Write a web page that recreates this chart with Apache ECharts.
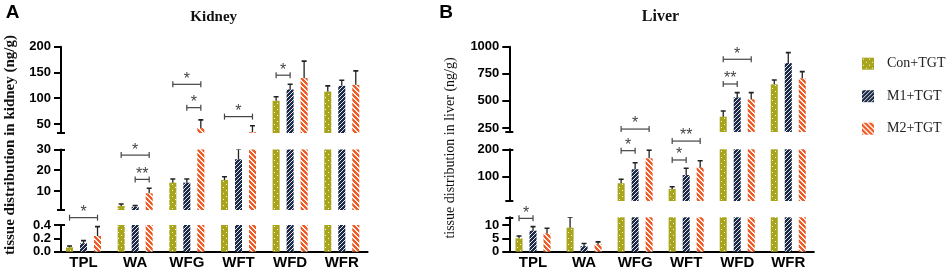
<!DOCTYPE html>
<html>
<head>
<meta charset="utf-8">
<script src="https://cdn.jsdelivr.net/npm/echarts@6/dist/echarts.min.js"></script>
<style>
html, body { margin: 0; padding: 0; background: #fff; }
#chart { width: 948px; height: 279px; }
</style>
</head>
<body>
<div id="chart"></div>
<script>
// data
const categories = ['TPL', 'WA', 'WFG', 'WFT', 'WFD', 'WFR']
const groups = ['Con+TGT', 'M1+TGT', 'M2+TGT']

const kidneyCon = [0.066, 2.75, 14.0, 15.3, 95, 113]
const kidneyConErr = [0.02, 0.95, 1.8, 1.6, 8, 11]
const kidneyM1 = [0.126, 2.4, 14.0, 25.3, 117, 124]
const kidneyM1Err = [0.04, 0.6, 1.8, 4.8, 10, 11]
const kidneyM2 = [0.235, 8.9, 42, 34, 139, 126]
const kidneyM2Err = [0.14, 2.4, 16, 12.5, 33, 27]

const liverCon = [5.0, 9.0, 76, 55, 354, 653]
const liverConErr = [0.9, 3.9, 14.5, 8.5, 53, 40]
const liverM1 = [7.9, 2.1, 127, 106, 533, 849]
const liverM1Err = [1.5, 1.0, 24, 24.6, 43, 96]
const liverM2 = [6.9, 2.8, 167, 134, 515, 708]
const liverM2Err = [1.9, 0.9, 30, 24, 61, 62]

// significance brackets: [category, fromGroup, toGroup, level, mark, segment]
const kidneyBrackets = [
  [0, 0, 2, 0.51, '*', 2],
  [1, 0, 2, 27.3, '*', 1],
  [1, 1, 2, 15.6, '**', 1],
  [2, 0, 2, 127, '*', 0],
  [2, 1, 2, 81.7, '*', 0],
  [3, 0, 2, 64.3, '*', 0],
  [4, 0, 1, 144.7, '*', 0]
]
const liverBrackets = [
  [0, 0, 1, 12.5, '*', 2],
  [2, 0, 1, 195, '*', 1],
  [2, 0, 2, 240, '*', 0],
  [3, 0, 1, 161, '*', 1],
  [3, 0, 2, 230, '**', 1],
  [4, 0, 2, 884, '*', 0],
  [4, 0, 1, 656, '**', 0]
]

// broken y-axis segments (top to bottom)
const kidneySegs = [
  { min: 32.5, max: 200, ticks: [50, 100, 150, 200], caps: [32.5], top: 46.7, bottom: 133 },
  { min: 0.84, max: 30, ticks: [10, 20, 30], caps: [0.84, 30], top: 149.5, bottom: 210 },
  { min: 0, max: 0.4, ticks: [0, 0.2, 0.4], caps: [0.4], top: 225, bottom: 251.7, digits: 1 }
]
const liverSegs = [
  { min: 213, max: 1000, ticks: [250, 500, 750, 1000], caps: [213], top: 46.7, bottom: 132 },
  { min: 11.3, max: 200, ticks: [100, 200], caps: [11.3, 200], top: 149.3, bottom: 201 },
  { min: 0, max: 12.9, ticks: [0, 5, 10], caps: [12.9], top: 217.3, bottom: 251.7 }
]

const panels = [
  { left: 57.7, right: 367.6, axisX: 61, segs: kidneySegs, brackets: kidneyBrackets,
    values: [kidneyCon, kidneyM1, kidneyM2], errs: [kidneyConErr, kidneyM1Err, kidneyM2Err] },
  { left: 507.5, right: 813.8, axisX: 509.3, segs: liverSegs, brackets: liverBrackets,
    values: [liverCon, liverM1, liverM2], errs: [liverConErr, liverM1Err, liverM2Err] }
]

const barW = 7
const barStep = barW * 2 // barGap 100%

function makePattern(bg, kind) {
  const n = kind === 'dots' ? 6 : (kind === 'fwd' ? 4 : 5)
  const c = document.createElement('canvas')
  c.width = n
  c.height = n
  const ctx = c.getContext('2d')
  ctx.fillStyle = bg
  ctx.fillRect(0, 0, n, n)
  ctx.fillStyle = 'rgba(255,255,255,0.9)'
  for (let x = 0; x < n; x++) {
    for (let y = 0; y < n; y++) {
      let on = false
      if (kind === 'dots') on = (x === 1 && y === 1) || (x === 4 && y === 4)
      if (kind === 'fwd') on = (x + y) % n === 0
      if (kind === 'back') on = ((x - y + n) % n) < 2
      if (on) ctx.fillRect(x, y, 1, 1)
    }
  }
  return { image: c, repeat: 'repeat' }
}
const patterns = [
  makePattern('#a8a51c', 'dots'),
  makePattern('#1c2a48', 'fwd'),
  makePattern('#f05a24', 'back')
]

const grids = []
const xAxes = []
const yAxes = []
const series = []
const black = '#000'

panels.forEach(p => {
  p.segs.forEach((s, si) => {
    const gi = grids.length
    const last = si === p.segs.length - 1
    grids.push({ left: p.left, top: s.top, width: p.right - p.left, height: s.bottom - s.top })
    xAxes.push({
      type: 'category', gridIndex: gi, data: categories, show: last,
      axisLine: { onZero: false, lineStyle: { color: black, width: 2 } },
      axisTick: { alignWithLabel: true, length: 6, lineStyle: { color: black, width: 2 } },
      axisLabel: { color: black, fontWeight: 'bold', fontSize: 15, fontFamily: 'Arial', margin: 4 }
    })
    const yBase = {
      type: 'value', gridIndex: gi, position: 'left', min: s.min, max: s.max,
      offset: p.left - p.axisX, splitLine: { show: false }
    }
    const yi = yAxes.length
    yAxes.push(Object.assign({}, yBase, {
      axisLine: { show: true, lineStyle: { color: black, width: 2 } },
      axisTick: { show: true, length: 7, customValues: s.ticks, lineStyle: { color: black, width: 2 } },
      axisLabel: {
        customValues: s.ticks, color: black, fontWeight: 'bold', fontSize: 13, fontFamily: 'Arial', margin: 10,
        formatter: v => s.digits ? v.toFixed(s.digits) : String(v)
      }
    }))
    // end caps of each axis piece
    yAxes.push(Object.assign({}, yBase, {
      axisLine: { show: false }, axisLabel: { show: false },
      axisTick: { show: true, length: 4, customValues: s.caps, lineStyle: { color: black, width: 2 } }
    }))
    yAxes.push(Object.assign({}, yBase, {
      axisLine: { show: false }, axisLabel: { show: false },
      axisTick: { show: true, inside: true, length: 4, customValues: s.caps, lineStyle: { color: black, width: 2 } }
    }))

    const errData = []
    groups.forEach((g, k) => {
      series.push({
        type: 'bar', name: g, xAxisIndex: gi, yAxisIndex: yi,
        barWidth: barW, barGap: '100%', clip: true,
        itemStyle: { color: patterns[k] },
        data: p.values[k].map(v => (v > s.min ? v : null))
      })
      p.values[k].forEach((v, c) => {
        if (v > s.min && v <= s.max) errData.push([c, v, p.errs[k][c], k])
      })
    })

    series.push({
      type: 'custom', xAxisIndex: gi, yAxisIndex: yi, clip: true, z: 3,
      encode: { x: 0, y: 1 },
      data: errData,
      renderItem: (params, api) => {
        const c = api.value(0), v = api.value(1), e = api.value(2), k = api.value(3)
        const a = api.coord([c, v])
        const b = api.coord([c, v + e])
        const x = a[0] + (k - 1) * barStep
        return {
          type: 'group', children: [
            { type: 'line', shape: { x1: x, y1: a[1], x2: x, y2: b[1] }, style: { stroke: '#222', lineWidth: 1.3 } },
            { type: 'line', shape: { x1: x - 2.5, y1: b[1], x2: x + 2.5, y2: b[1] }, style: { stroke: '#222', lineWidth: 1.6 } }
          ]
        }
      }
    })

    const br = p.brackets.filter(b => b[5] === si)
    if (br.length) {
      series.push({
        type: 'custom', xAxisIndex: gi, yAxisIndex: yi, clip: false, z: 4,
        encode: { x: 0, y: 3 },
        data: br,
        renderItem: (params, api) => {
          const c = api.value(0), f = api.value(1), t = api.value(2), lv = api.value(3)
          const mark = br[params.dataIndex][4]
          const pt = api.coord([c, lv])
          const x1 = pt[0] + (f - 1) * barStep
          const x2 = pt[0] + (t - 1) * barStep
          const y = pt[1]
          const st = { stroke: '#444', lineWidth: 1.2 }
          return {
            type: 'group', children: [
              { type: 'line', shape: { x1: x1, y1: y, x2: x2, y2: y }, style: st },
              { type: 'line', shape: { x1: x1, y1: y - 3, x2: x1, y2: y + 3 }, style: st },
              { type: 'line', shape: { x1: x2, y1: y - 3, x2: x2, y2: y + 3 }, style: st },
              { type: 'text', x: (x1 + x2) / 2, y: y - 5,
                style: { text: mark, fill: '#444', font: '16px Arial', align: 'center', verticalAlign: 'middle' } }
            ]
          }
        }
      })
    }
  })
})

const chart = echarts.init(document.getElementById('chart'), null, { renderer: 'canvas' })
chart.setOption({
  animation: false,
  backgroundColor: '#fff',
  grid: grids,
  xAxis: xAxes,
  yAxis: yAxes,
  legend: {
    data: groups, orient: 'vertical', left: 862, top: 56.7, padding: 0,
    itemWidth: 12, itemHeight: 12, itemGap: 18.5, icon: 'rect',
    textStyle: { fontFamily: "'Liberation Serif', 'Times New Roman', serif", fontSize: 14, color: '#222', padding: [0, 0, 0, 8] }
  },
  graphic: [
    { type: 'text', x: 12.5, y: 13, style: { text: 'A', font: 'bold 19px Arial', fill: black, align: 'center', verticalAlign: 'middle' } },
    { type: 'text', x: 446, y: 13, style: { text: 'B', font: 'bold 19px Arial', fill: black, align: 'center', verticalAlign: 'middle' } },
    { type: 'text', x: 213.7, y: 17, style: { text: 'Kidney', font: "bold 15px 'Liberation Serif', serif", fill: '#111', align: 'center', verticalAlign: 'middle' } },
    { type: 'text', x: 660.5, y: 17, style: { text: 'Liver', font: "bold 16px 'Liberation Serif', serif", fill: '#111', align: 'center', verticalAlign: 'middle' } },
    { type: 'text', x: 10, y: 145, rotation: Math.PI / 2,
      style: { text: 'tissue distribution in kidney (ng/g)', font: "bold 15px 'Liberation Serif', serif", fill: '#111', align: 'center', verticalAlign: 'middle' } },
    { type: 'text', x: 450, y: 148, rotation: Math.PI / 2,
      style: { text: 'tissue distribution in liver (ng/g)', font: "14px 'Liberation Serif', serif", fill: '#111', align: 'center', verticalAlign: 'middle' } }
  ],
  series: series
})
</script>
</body>
</html>
